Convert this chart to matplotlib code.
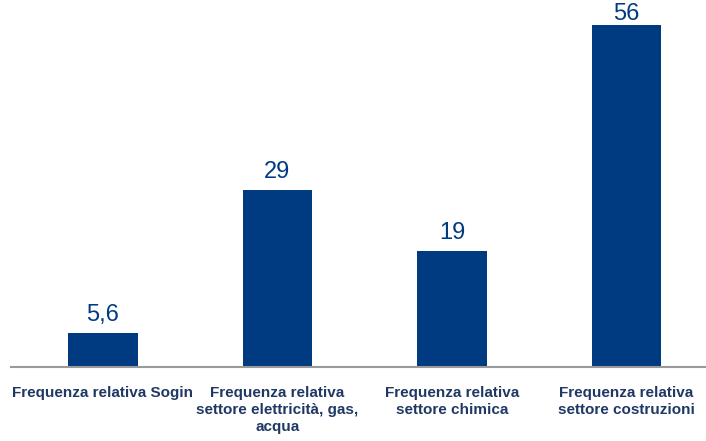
import matplotlib
matplotlib.use("Agg")
import matplotlib.pyplot as plt

categorie = ["Frequenza relativa Sogin",
             "Frequenza relativa\nsettore elettricità, gas,\nacqua",
             "Frequenza relativa\nsettore chimica",
             "Frequenza relativa\nsettore costruzioni"]
valori = [5.6, 29, 19, 56]
etichette = ["5,6", "29", "19", "56"]

blu = "#003A80"
blu_testo = "#1F3864"

plt.rcParams['font.family'] = ['Liberation Sans Narrow', 'Liberation Sans', 'DejaVu Sans']

fig = plt.figure(figsize=(7.06, 4.41), dpi=100)
ax = fig.add_axes([10.5 / 706, 74 / 441, 703.2 / 706, 366.4 / 441])

x = list(range(len(valori)))
barre = ax.bar(x, valori, width=0.4, color=blu)

# the tallest label sits close to the bar so it stays inside the picture
for xi, v, t in zip(x, valori, etichette):
    pad = 0 if v == max(valori) else 5
    ax.annotate(t, (xi, v), xytext=(0, pad), textcoords='offset points',
                ha='center', va='bottom', fontsize=17, color=blu)

ax.set_xlim(-0.53, 3.5)
ax.set_ylim(0, 60)
ax.set_yticks([])
ax.set_xticks(x)
ax.set_xticklabels(categorie, fontsize=11, fontweight='bold', color=blu_testo, linespacing=1.25)
ax.tick_params(axis='x', length=0, pad=14)

for s in ['top', 'right', 'left']:
    ax.spines[s].set_visible(False)
ax.spines['bottom'].set_color('#9A9A9A')
ax.spines['bottom'].set_linewidth(1.5)

fig.savefig("out.png", dpi=100)
